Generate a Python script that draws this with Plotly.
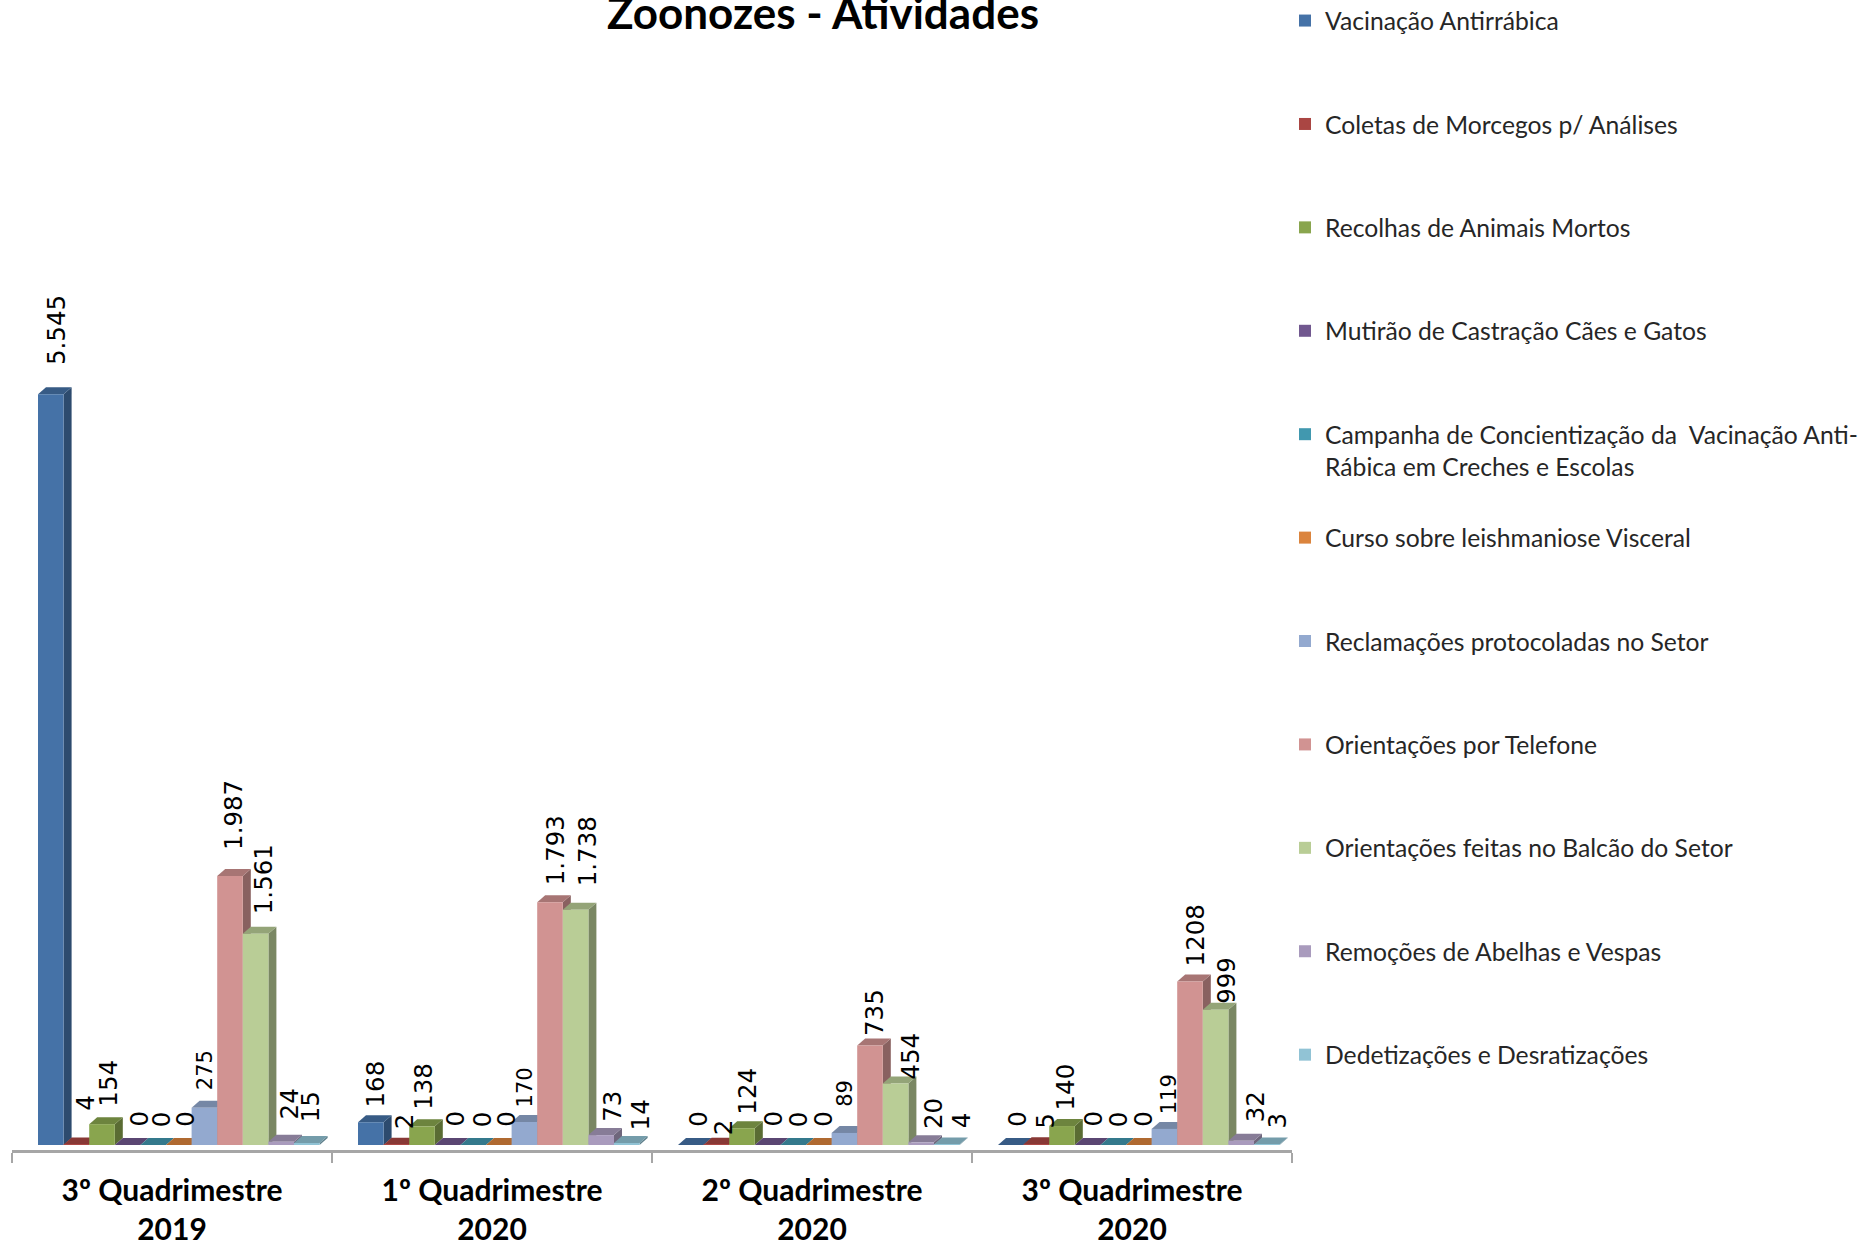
import plotly.graph_objects as go

categories = ["3º Quadrimestre<br>2019", "1º Quadrimestre<br>2020",
              "2º Quadrimestre<br>2020", "3º Quadrimestre<br>2020"]
series_names = ["Vacinação Antirrábica", "Coletas de Morcegos p/ Análises", "Recolhas de Animais Mortos",
                "Mutirão de Castração Cães e Gatos", "Campanha de Concientização da\u00a0 Vacinação Anti-",
                "Curso sobre leishmaniose Visceral", "Reclamações protocoladas no Setor",
                "Orientações por Telefone", "Orientações feitas no Balcão do Setor",
                "Remoções de Abelhas e Vespas", "Dedetizações e Desratizações"]
legend_second_line = "Rábica em Creches e Escolas"

vacinacao = [5545, 168, 0, 0]
coletas = [4, 2, 2, 5]
recolhas = [154, 138, 124, 140]
mutirao = [0, 0, 0, 0]
campanha = [0, 0, 0, 0]
curso = [0, 0, 0, 0]
reclamacoes = [275, 170, 89, 119]
telefone = [1987, 1793, 735, 1208]
balcao = [1561, 1738, 454, 999]
remocoes = [24, 73, 20, 32]
dedetizacoes = [15, 14, 4, 3]
series_values = [vacinacao, coletas, recolhas, mutirao, campanha, curso,
                 reclamacoes, telefone, balcao, remocoes, dedetizacoes]

value_labels = [
    ["5.545", "168", "0", "0"], ["4", "2", "2", "5"], ["154", "138", "124", "140"],
    ["0", "0", "0", "0"], ["0", "0", "0", "0"], ["0", "0", "0", "0"],
    ["275", "170", "89", "119"], ["1.987", "1.793", "735", "1208"],
    ["1.561", "1.738", "454", "999"], ["24", "73", "20", "32"], ["15", "14", "4", "3"]]

# styles
colors = ["#4572A7", "#AA4643", "#89A54E", "#71588F", "#4198AF", "#DB843D",
          "#93A9CF", "#D19392", "#B9CD96", "#A99BBD", "#91C3D5"]
small_labels = {"275", "170", "89", "119"}
# hand nudges of the data labels (px), per series then per quarter
label_dx = [[5, 5, 7, 6], [9, 8, 7, 9], [7, 2, 6, 4], [11, 7, 5, 5], [8, 9, 5, 5], [6, 7, 4, 4],
            [0, 1, 1, 4], [4, 5, 5, 5], [8, 12, 14, 11], [8, 11, 13, 14], [4, 14, 15, 11]]
label_lift = [[31, 17, 20, 20], [36, 18, 12, 18], [19, 18, 15, 17], [20, 20, 20, 20], [20, 20, 20, 20],
              [20, 20, 20, 20], [20, 17, 28, 17], [28, 19, 11, 17], [21, 25, 6, 8], [24, 15, 15, 20],
              [23, 15, 18, 18]]

W, H = 1860, 1243
PLOT_L, PLOT_R, PLOT_BOTTOM = 12, 1292, 1150
PLOT_W = PLOT_R - PLOT_L
BASELINE = 1145
PX_PER_UNIT = 0.1354
PX_PER_CAT = PLOT_W / len(categories)
BAR_W = 25.6 / PX_PER_CAT
LEAD = 26 / PX_PER_CAT
DEPTH_X = 8 / PX_PER_CAT
DEPTH_Y = 7 / PX_PER_UNIT
Y_MIN = -(PLOT_BOTTOM - BASELINE) / PX_PER_UNIT
Y_MAX = BASELINE / PX_PER_UNIT


def shade(hex_color, f):
    r, g, b = (int(hex_color[i:i + 2], 16) for i in (1, 3, 5))
    return "#%02x%02x%02x" % (int(r * f), int(g * f), int(b * f))


def bar_x(cat, s):
    return cat - 0.5 + LEAD + (s + 0.5) * BAR_W


fig = go.Figure()
shapes, annotations = [], []
for s, (name, vals) in enumerate(zip(series_names, series_values)):
    xs = [bar_x(c, s) for c in range(len(categories))]
    fig.add_trace(go.Bar(x=xs, y=vals, width=BAR_W, name=name, legendgroup=name,
                         marker=dict(color=colors[s], line=dict(width=0))))
for c in range(len(categories)):
    for s, vals in enumerate(series_values):
        v = vals[c]
        x0 = bar_x(c, s) - BAR_W / 2
        x1 = x0 + BAR_W
        side = (f"M{x1},0 L{x1 + DEPTH_X},{DEPTH_Y} L{x1 + DEPTH_X},{v + DEPTH_Y} L{x1},{v} Z")
        top = (f"M{x0},{v} L{x0 + DEPTH_X},{v + DEPTH_Y} L{x1 + DEPTH_X},{v + DEPTH_Y} L{x1},{v} Z")
        shapes.append(dict(type="path", path=side, xref="x", yref="y", layer="below",
                           fillcolor=shade(colors[s], 0.66), line=dict(width=0)))
        shapes.append(dict(type="path", path=top, xref="x", yref="y", layer="below",
                           fillcolor=shade(colors[s], 0.8), line=dict(width=0)))
        txt = value_labels[s][c]
        annotations.append(dict(
            x=bar_x(c, s), y=v, xref="x", yref="y", text=txt, textangle=-90, showarrow=False,
            xanchor="center", yanchor="bottom", borderpad=0,
            xshift=label_dx[s][c], yshift=label_lift[s][c] - 3,
            font=dict(family="DejaVu Sans", size=21 if txt in small_labels else 24.5, color="#000000")))

annotations.append(dict(x=(1324 - PLOT_L) / PLOT_W, y=1 - 467 / PLOT_BOTTOM, xref="paper", yref="paper",
                        text=legend_second_line, showarrow=False, xanchor="left", yanchor="middle", borderpad=0,
                        font=dict(family="Lato", size=24.7, color="#262626")))

fig.update_layout(
    width=W, height=H, paper_bgcolor="white", plot_bgcolor="white",
    margin=dict(l=PLOT_L, r=W - PLOT_R, t=0, b=H - PLOT_BOTTOM, autoexpand=False),
    barmode="overlay",
    title=dict(text="<b>Zoonozes - Atividades</b>", x=823 / W, xanchor="center",
               y=1 - 14 / H, yanchor="middle", font=dict(family="Lato", size=44, color="#000000")),
    xaxis=dict(range=[-0.5, len(categories) - 0.5], tickmode="array", tickvals=list(range(len(categories))),
               ticktext=[f"<b>{t}</b>" for t in categories], ticks="", showgrid=False, zeroline=False,
               showline=True, linecolor="#a6a6a6", linewidth=3,
               tickfont=dict(family="Lato", size=30, color="#000000"), ticklabelstandoff=12,
               minor=dict(tickvals=[c - 0.5 for c in range(len(categories) + 1)], ticks="outside",
                          ticklen=10, tickwidth=2, tickcolor="#a6a6a6", showgrid=False)),
    yaxis=dict(range=[Y_MIN, Y_MAX], visible=False),
    legend=dict(x=(1285 - PLOT_L) / PLOT_W, y=1 + 2 / PLOT_BOTTOM, xanchor="left", yanchor="top", traceorder="grouped",
                tracegroupgap=68.3, maxheight=1240, font=dict(family="Lato", size=24.7, color="#262626"),
                bgcolor="rgba(0,0,0,0)", itemclick=False),
    shapes=shapes, annotations=annotations, showlegend=True)

fig.write_html("out.html", config=dict(displayModeBar=False),
               post_script="document.body.style.margin='0';document.body.style.overflow='hidden';")
